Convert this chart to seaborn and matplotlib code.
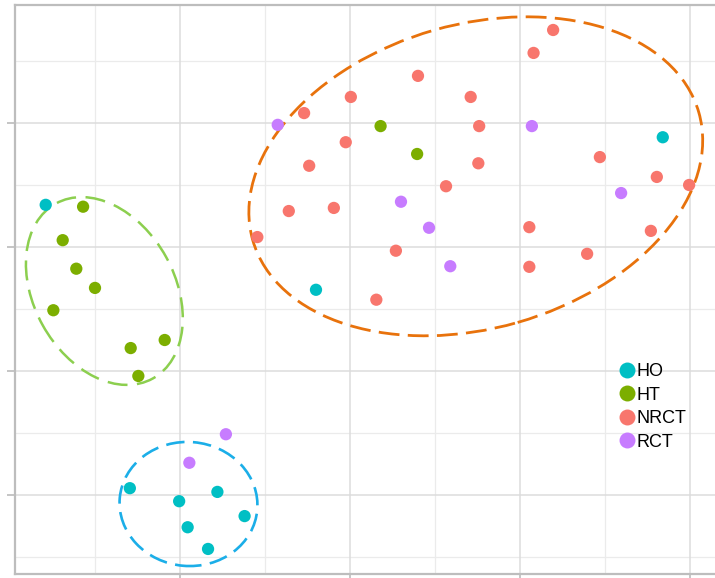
import numpy as np
import pandas as pd
import matplotlib
matplotlib.use("Agg")
import matplotlib.pyplot as plt
import matplotlib.transforms as mtransforms
from matplotlib.patches import Ellipse
import seaborn as sns

# ---- data -------------------------------------------------------------
groups = ["HO", "HT", "NRCT", "RCT"]
palette = ["#00BFC4", "#7CAE00", "#F8766D", "#C77CFF"]

ho_x = [0.42, 7.68, 3.60, 1.41, 1.99, 2.44, 2.76, 2.09, 2.33]
ho_y = [5.68, 6.77, 4.31, 1.11, 0.90, 1.05, 0.66, 0.48, 0.13]

ht_x = [0.86, 0.62, 0.78, 1.00, 0.51, 1.42, 1.82, 1.51, 4.36, 4.79]
ht_y = [5.65, 5.11, 4.65, 4.34, 3.98, 3.37, 3.50, 2.92, 6.95, 6.50]

nrct_x = [3.46, 4.01, 3.95, 3.52, 3.28, 3.81, 2.91, 6.39, 6.16, 4.80, 5.42, 5.52,
          5.51, 6.94, 7.61, 7.99, 5.13, 6.11, 7.54, 4.54, 6.79, 6.11, 4.31]
nrct_y = [7.16, 7.42, 6.69, 6.31, 5.58, 5.63, 5.16, 8.50, 8.13, 7.76, 7.42, 6.95,
          6.35, 6.45, 6.13, 6.00, 5.98, 5.32, 5.26, 4.94, 4.89, 4.68, 4.15]

rct_x = [3.15, 6.14, 4.60, 7.19, 4.93, 5.18, 2.54, 2.11]
rct_y = [6.97, 6.95, 5.73, 5.87, 5.31, 4.69, 1.98, 1.52]

x_major = [2, 4, 6, 8]
x_minor = [1, 3, 5, 7]
y_major = [1, 3, 5, 7]
y_minor = [0, 2, 4, 6, 8]

# cluster outlines: centre (data), width/height (inches), angle, colour
outlines = [
    dict(center=(5.48, 6.14), size=(4.64, 3.04), angle=16, color="#E8720C",
         dashes=(7.5, 3.0), lw=2.0),
    dict(center=(1.11, 4.29), size=(2.00, 1.41), angle=-61, color="#8CCF4F",
         dashes=(8.0, 3.8), lw=1.8),
    dict(center=(2.10, 0.855), size=(1.38, 1.24), angle=-5, color="#1BAEE8",
         dashes=(7.0, 3.2), lw=1.9),
]

frames = []
for name, xs, ys in [("HO", ho_x, ho_y), ("HT", ht_x, ht_y),
                     ("NRCT", nrct_x, nrct_y), ("RCT", rct_x, rct_y)]:
    frames.append(pd.DataFrame({"x": xs, "y": ys, "group": name}))
df = pd.concat(frames, ignore_index=True)

# ---- figure -----------------------------------------------------------
sns.set_style("white")
plt.rcParams["font.family"] = ["Liberation Sans", "DejaVu Sans"]

fig = plt.figure(figsize=(7.15, 5.78), dpi=100)
ax = fig.add_axes([15 / 715, 4 / 578, 702 / 715, 569 / 578])
ax.patch.set_edgecolor("none")

ax.set_xlim(0.0588, 8.318)
ax.set_ylim(-0.274, 8.903)

# grid
for v in x_minor:
    ax.axvline(v, color="#EBEBEB", lw=0.9, zorder=0)
for v in y_minor:
    ax.axhline(v, color="#EBEBEB", lw=0.9, zorder=0)
for v in x_major:
    ax.axvline(v, color="#DCDCDC", lw=1.1, zorder=0)
for v in y_major:
    ax.axhline(v, color="#DCDCDC", lw=1.1, zorder=0)

sns.scatterplot(data=df, x="x", y="y", hue="group", hue_order=groups,
                palette=palette, s=78, linewidth=0, ax=ax, zorder=3)

for o in outlines:
    tr = fig.dpi_scale_trans + mtransforms.ScaledTranslation(
        o["center"][0], o["center"][1], ax.transData)
    e = Ellipse((0, 0), o["size"][0], o["size"][1], angle=o["angle"],
                transform=tr, fill=False, edgecolor=o["color"], lw=o["lw"],
                linestyle=(0, o["dashes"]), zorder=2)
    ax.add_patch(e)

ax.set_xticks(x_major)
ax.set_yticks(y_major)
ax.set_xticklabels([])
ax.set_yticklabels([])
ax.tick_params(axis="both", length=6, width=1.2, color="#BBBBBB",
               direction="out", left=True, bottom=True)
ax.set_xlabel("")
ax.set_ylabel("")
for side in ["left", "bottom", "top"]:
    ax.spines[side].set_color("#BDBDBD")
    ax.spines[side].set_linewidth(1.6)
ax.spines["right"].set_visible(False)

sns.move_legend(ax, "upper left", bbox_to_anchor=(0.836, 0.399),
                frameon=False, title=None, handletextpad=0.0,
                handlelength=1.0, labelspacing=0.36, fontsize=13,
                markerscale=1.3, borderpad=0.4, labelcolor="black")

fig.savefig("out.png", dpi=100)
